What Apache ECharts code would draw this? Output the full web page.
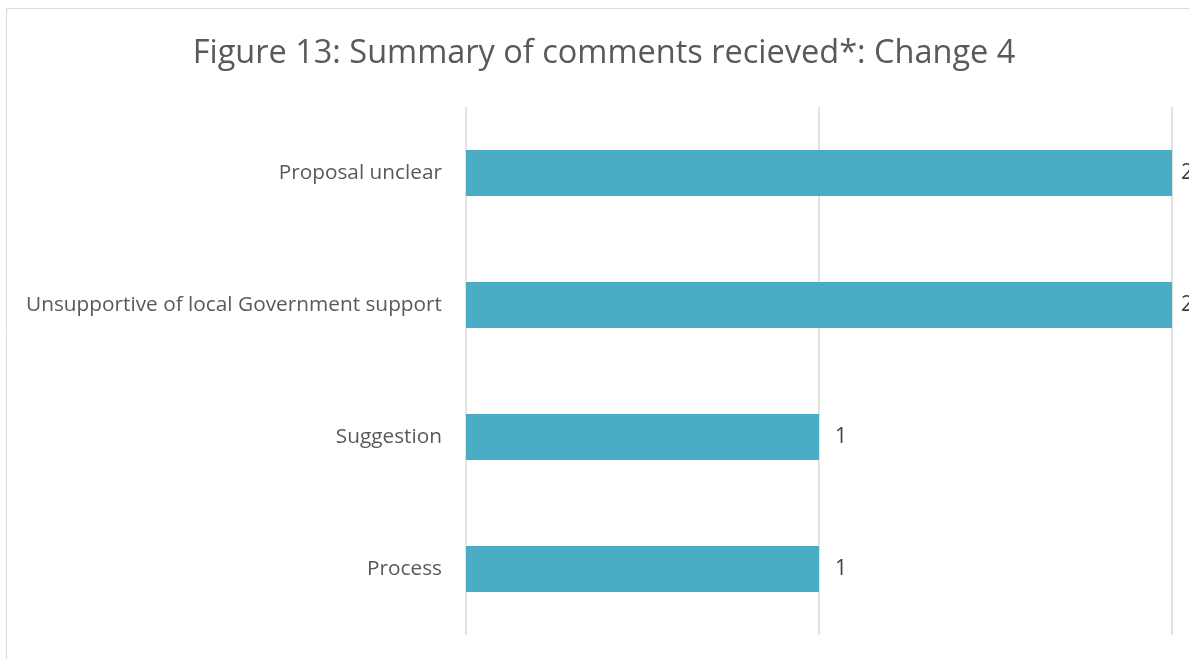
<!DOCTYPE html>
<html>
<head>
<meta charset="utf-8">
<script src="https://cdn.jsdelivr.net/npm/echarts@6/dist/echarts.min.js"></script>
<style>
  html, body { margin: 0; padding: 0; background: #fff; }
  #chart { width: 1189px; height: 659px; }
</style>
</head>
<body>
<div id="chart"></div>
<script>
// data
var categories = ['Process', 'Suggestion', 'Unsupportive of local Government support', 'Proposal unclear'];
var counts = [1, 1, 2, 2];
var xTicks = [0, 1, 2];

var xMax = xTicks[xTicks.length - 1];

var myChart = echarts.init(document.getElementById('chart'));
var option = {
    animation: false,
    textStyle: { fontFamily: 'Open Sans' },
    title: {
        text: 'Figure 13: Summary of comments recieved*: Change 4',
        left: 599,
        textAlign: 'center',
        top: 32,
        textStyle: {
            fontFamily: 'Open Sans',
            fontSize: 32.5,
            fontWeight: 'normal',
            color: '#595959'
        }
    },
    // outer chart border
    graphic: [{
        type: 'rect',
        shape: { x: 6.5, y: 8.5, width: 1400, height: 800 },
        style: { fill: 'none', stroke: '#d9d9d9', lineWidth: 1 },
        silent: true
    }],
    grid: {
        left: 466,
        right: 1189 - 1172,
        top: 107,
        bottom: 659 - 635,
        containLabel: false
    },
    xAxis: {
        type: 'value',
        min: xTicks[0],
        max: xMax,
        interval: 1,
        axisLabel: { show: false },
        axisLine: { show: false },
        axisTick: { show: false },
        splitLine: { lineStyle: { color: '#d9d9d9', width: 1.5 } }
    },
    yAxis: {
        type: 'category',
        data: categories,
        axisLine: { show: false },
        axisTick: { show: false },
        axisLabel: {
            margin: 24,
            fontSize: 20.8,
            color: '#595959',
            fontFamily: 'Open Sans'
        }
    },
    series: [{
        type: 'bar',
        // bars at the axis end keep their label close so it peeks in at the edge
        data: counts.map(function (v) {
            return v === xMax ? { value: v, label: { distance: 9 } } : v;
        }),
        barWidth: '35%',
        itemStyle: { color: '#4bacc6' },
        label: {
            show: true,
            position: 'right',
            distance: 16,
            fontSize: 21,
            color: '#404040',
            fontFamily: 'Open Sans'
        }
    }]
};
myChart.setOption(option);
</script>
</body>
</html>
